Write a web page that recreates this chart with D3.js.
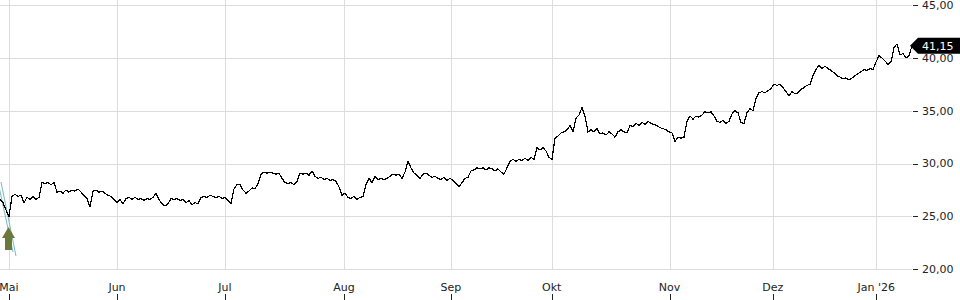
<!DOCTYPE html>
<html>
<head>
<meta charset="utf-8">
<script src="https://cdn.jsdelivr.net/npm/d3@7"></script>
<style>
  body { margin: 0; background: #fff; }
  svg { display: block; font-family: "DejaVu Sans", sans-serif; }
</style>
</head>
<body>
<svg id="chart" width="960" height="300"></svg>
<script>
// closing prices, one sample every ~3px of the trading-day axis
const prices = [
  26.6, 26.3, 25.6, 25.0, 26.9, 27.1, 26.9, 27.0, 26.3, 26.8,
  26.6, 26.9, 26.6, 26.8, 28.2, 28.1, 28.2, 28.0, 28.2, 27.3,
  27.4, 27.2, 27.5, 27.3, 27.5, 27.4, 27.6, 27.3, 27.0, 26.7,
  25.9, 27.4, 27.5, 27.3, 27.4, 27.2, 27.0, 26.9, 26.6, 26.3,
  26.6, 26.2, 26.7, 26.8, 26.6, 26.8, 26.6, 26.7, 26.5, 26.7,
  26.6, 26.8, 27.2, 26.6, 26.2, 26.0, 26.2, 26.7, 26.6, 26.7,
  26.5, 26.6, 26.3, 26.5, 26.1, 26.3, 26.2, 26.8, 26.9, 26.8,
  27.0, 26.9, 26.8, 26.9, 26.7, 26.8, 26.5, 26.2, 27.6, 28.0,
  28.0, 27.5, 27.2, 27.4, 27.7, 27.6, 28.1, 29.0, 29.2, 29.1,
  29.2, 29.1, 29.0, 29.1, 28.6, 28.2, 28.1, 28.2, 28.0, 28.3,
  29.1, 29.0, 29.1, 28.9, 29.3, 28.8, 28.6, 28.7, 28.5, 28.6,
  28.4, 28.5, 28.3, 27.8, 27.0, 27.2, 26.8, 26.7, 26.9, 26.6,
  26.8, 26.9, 28.0, 28.6, 28.2, 28.8, 28.5, 28.6, 28.5, 28.6,
  28.8, 29.0, 28.9, 29.0, 28.6, 29.2, 30.2, 29.6, 29.1, 28.9,
  28.6, 29.0, 29.1, 28.9, 28.7, 28.8, 28.6, 28.5, 28.7, 28.4,
  28.6, 28.4, 28.1, 27.8, 28.2, 28.6, 28.7, 29.3, 29.4, 29.6,
  29.5, 29.6, 29.4, 29.6, 29.5, 29.3, 29.5, 29.2, 29.0, 29.6,
  30.2, 30.4, 30.2, 30.4, 30.3, 30.5, 30.3, 30.6, 30.4, 31.5,
  31.3, 31.5, 31.2, 30.6, 30.4, 32.4, 32.6, 32.9, 33.0, 33.2,
  33.6, 33.0, 34.3, 34.6, 35.3, 34.5, 33.0, 33.2, 33.0, 33.3,
  32.8, 32.9, 32.7, 33.0, 32.8, 32.5, 33.0, 33.2, 33.0, 32.9,
  33.6, 33.5, 33.8, 33.6, 33.9, 33.7, 34.0, 33.8, 33.7, 33.6,
  33.4, 33.3, 33.2, 33.0, 32.9, 32.1, 32.5, 32.4, 32.5, 34.0,
  34.5, 34.2, 34.5, 34.4, 34.6, 34.9, 34.8, 34.9, 34.5, 34.0,
  33.9, 34.1, 33.8, 34.0, 34.7, 35.0, 34.8, 33.9, 33.8, 34.8,
  35.2, 35.0, 36.2, 36.7, 36.8, 36.7, 36.9, 37.1, 37.5, 37.4,
  37.5, 37.2, 36.8, 36.4, 36.8, 36.6, 36.7, 37.0, 37.2, 37.4,
  37.5, 38.3, 38.9, 39.3, 39.0, 39.2, 39.0, 38.8, 38.6, 38.3,
  38.2, 38.0, 38.1, 37.9, 38.1, 38.3, 38.5, 38.7, 38.9, 38.8,
  39.0, 38.9, 39.6, 40.2, 40.0, 39.7, 39.4, 39.6, 41.0, 41.3,
  40.3, 40.4, 40.0, 40.2, 41.15
];

const monthLabels = ["Mai", "Jun", "Jul", "Aug", "Sep", "Okt", "Nov", "Dez", "Jan '26"];
const monthStarts = [3, 39, 75, 114.7, 150.3, 183.9, 223.2, 257.6, 292.1];
const yTicks = [20, 25, 30, 35, 40, 45];
const lastPrice = "41,15";
const signalIndex = 2;

const svg = d3.select("#chart");
const fmt = v => d3.format(".2f")(v).replace(".", ",");

const x = d3.scaleLinear().domain([0, prices.length - 1]).range([0, 912]);
const y = d3.scaleLinear().domain([20, 45]).range([269.3, 5]);

// grid
svg.append("g")
  .selectAll("line")
  .data(yTicks)
  .join("line")
  .attr("x1", 0)
  .attr("x2", 912)
  .attr("y1", d => Math.round(y(d)) + 0.5)
  .attr("y2", d => Math.round(y(d)) + 0.5)
  .attr("stroke", "#dcdcdc");

svg.append("g")
  .selectAll("line")
  .data(monthStarts)
  .join("line")
  .attr("x1", d => Math.round(x(d)) + 0.5)
  .attr("x2", d => Math.round(x(d)) + 0.5)
  .attr("y1", 0)
  .attr("y2", 270)
  .attr("stroke", "#dcdcdc");

// right axis
const yAxis = svg.append("g").attr("transform", "translate(913,0)");
yAxis.selectAll("line")
  .data(yTicks)
  .join("line")
  .attr("x1", 0)
  .attr("x2", 5)
  .attr("y1", d => Math.round(y(d)) + 0.5)
  .attr("y2", d => Math.round(y(d)) + 0.5)
  .attr("stroke", "#222");
yAxis.selectAll("text")
  .data(yTicks)
  .join("text")
  .attr("x", 9)
  .attr("y", d => y(d))
  .attr("dy", "0.35em")
  .attr("font-size", 11)
  .attr("fill", "#222")
  .text(d => fmt(d));

// bottom axis
const xAxis = svg.append("g");
xAxis.selectAll("text")
  .data(monthLabels)
  .join("text")
  .attr("x", (d, i) => x(monthStarts[i]))
  .attr("y", 291)
  .attr("text-anchor", "middle")
  .attr("font-size", 11)
  .attr("fill", "#222")
  .text(d => d);
xAxis.selectAll("line")
  .data(monthStarts)
  .join("line")
  .attr("x1", d => Math.round(x(d)) + 0.5)
  .attr("x2", d => Math.round(x(d)) + 0.5)
  .attr("y1", 294)
  .attr("y2", 300)
  .attr("stroke", "#222");

// trend lines at the signal
const sx = x(signalIndex);
[[-2, 182, 13, 252], [1, 182, 16, 256]].forEach(([a, b, c, e]) => {
  svg.append("line")
    .attr("x1", sx + a - 6).attr("y1", b)
    .attr("x2", sx + c - 6).attr("y2", e)
    .attr("stroke", "#78b9bd")
    .attr("stroke-width", 1);
});

// price line
svg.append("path")
  .datum(prices)
  .attr("fill", "none")
  .attr("stroke", "#000")
  .attr("stroke-width", 1.2)
  .attr("shape-rendering", "crispEdges")
  .attr("d", d3.line().x((d, i) => x(i)).y(d => y(d)));

// buy arrow
svg.append("path")
  .attr("fill", "#6b7a3b")
  .attr("d", d3.line()([
    [sx + 2.5, 227], [sx + 9, 238], [sx + 6, 238], [sx + 6, 250],
    [sx - 1, 250], [sx - 1, 238], [sx - 4, 238]
  ]));

// last price marker
const ly = y(prices[prices.length - 1]);
svg.append("path")
  .attr("fill", "#000")
  .attr("d", d3.line()([
    [910, ly], [918, ly - 8], [960, ly - 8], [960, ly + 8], [918, ly + 8]
  ]));
svg.append("text")
  .attr("x", 922)
  .attr("y", ly)
  .attr("dy", "0.35em")
  .attr("font-size", 11)
  .attr("fill", "#fff")
  .text(lastPrice);
</script>
</body>
</html>
